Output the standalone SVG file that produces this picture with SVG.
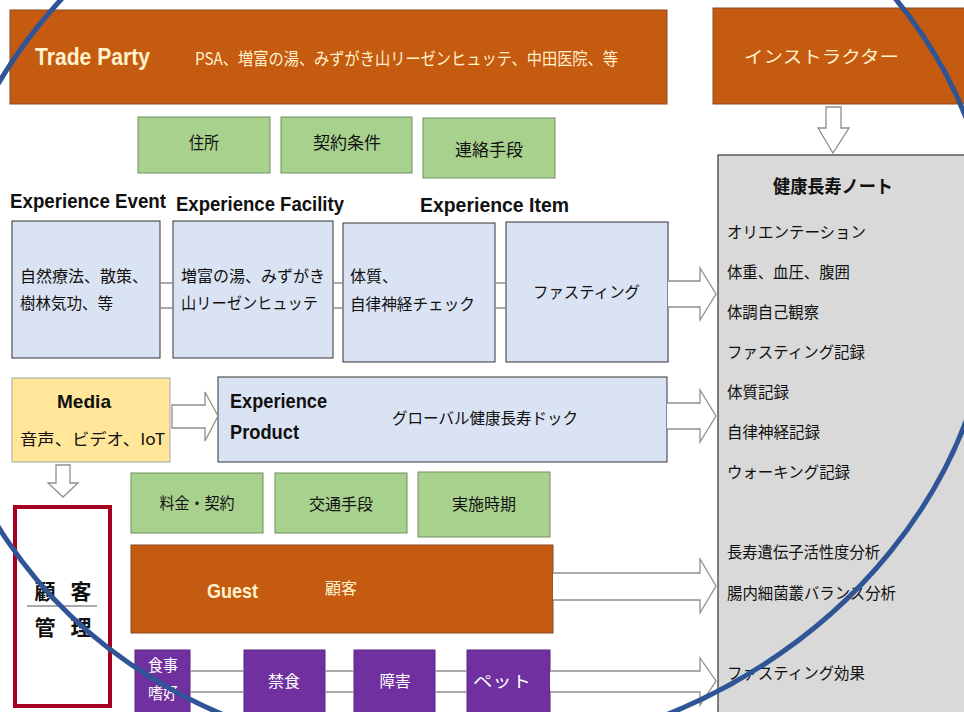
<svg xmlns="http://www.w3.org/2000/svg" width="964" height="712" viewBox="0 0 964 712">
<style>
text{font-family:"Noto Sans CJK JP","Liberation Sans",sans-serif;}
.lat{font-family:"Liberation Sans","Noto Sans CJK JP",sans-serif;font-weight:bold;}
.org{fill:#C55A11;stroke:#8a4a22;stroke-width:1}
.grn{fill:#A9D18E;stroke:#6f8f5e;stroke-width:1}
.blu{fill:#DAE3F3;stroke:#333;stroke-width:1}
.pur{fill:#7030A0;stroke:#5a2580;stroke-width:1}
.wt{fill:#FFF2CC}
.w{fill:#fff}
.k{fill:#111}
.arr{fill:#fff;stroke:#8f8f8f;stroke-width:1.3}
.dl{stroke:#8f8f8f;stroke-width:1.3;fill:none}
</style>
<rect width="964" height="712" fill="#fff"/>

<g id="trade-party">
<rect class="org" x="10" y="10" width="657" height="94"/>
<text class="lat wt" x="35" y="57" font-size="23" dominant-baseline="central" textLength="115" lengthAdjust="spacingAndGlyphs">Trade  Party</text>
<text class="wt" x="195" y="57" font-size="17" dominant-baseline="central" textLength="423" lengthAdjust="spacingAndGlyphs">PSA、増富の湯、みずがき山リーゼンヒュッテ、中田医院、等</text>
</g>

<g id="instructor">
<rect class="org" x="713" y="8" width="260" height="96"/>
<text class="wt" x="744" y="55" font-size="17" dominant-baseline="central" textLength="155" lengthAdjust="spacingAndGlyphs">インストラクター</text>
</g>

<g id="jusho"><rect class="grn" x="138" y="117" width="132" height="56"/><text class="k" x="204" y="141" font-size="17" text-anchor="middle" dominant-baseline="central" textLength="30" lengthAdjust="spacingAndGlyphs">住所</text></g>
<g id="keiyaku"><rect class="grn" x="281" y="117" width="131" height="56"/><text class="k" x="347" y="141" font-size="17" text-anchor="middle" dominant-baseline="central" textLength="68" lengthAdjust="spacingAndGlyphs">契約条件</text></g>
<g id="renraku"><rect class="grn" x="423" y="118" width="132" height="60"/><text class="k" x="489" y="148" font-size="17" text-anchor="middle" dominant-baseline="central" textLength="68" lengthAdjust="spacingAndGlyphs">連絡手段</text></g>

<g id="headers">
<text class="lat k" x="10" y="201" font-size="20" dominant-baseline="central" textLength="156" lengthAdjust="spacingAndGlyphs">Experience Event</text>
<text class="lat k" x="176" y="204" font-size="20" dominant-baseline="central" textLength="168" lengthAdjust="spacingAndGlyphs">Experience Facility</text>
<text class="lat k" x="420" y="205" font-size="20" dominant-baseline="central" textLength="149" lengthAdjust="spacingAndGlyphs">Experience Item</text>
</g>

<g id="event"><rect class="blu" x="12" y="221" width="148" height="137"/>
<text class="k" x="20" y="275" font-size="16" dominant-baseline="central" textLength="128" lengthAdjust="spacingAndGlyphs">自然療法、散策、</text>
<text class="k" x="20" y="302" font-size="16" dominant-baseline="central" textLength="93" lengthAdjust="spacingAndGlyphs">樹林気功、等</text></g>
<g id="facility"><rect class="blu" x="173" y="221" width="160" height="137"/>
<text class="k" x="181" y="275" font-size="16" dominant-baseline="central" textLength="144" lengthAdjust="spacingAndGlyphs">増富の湯、みずがき</text>
<text class="k" x="181" y="302" font-size="16" dominant-baseline="central" textLength="137" lengthAdjust="spacingAndGlyphs">山リーゼンヒュッテ</text></g>
<g id="item1"><rect class="blu" x="343" y="223" width="152" height="139"/>
<text class="k" x="350" y="275" font-size="16" dominant-baseline="central" textLength="48" lengthAdjust="spacingAndGlyphs">体質、</text>
<text class="k" x="350" y="303" font-size="16" dominant-baseline="central" textLength="125" lengthAdjust="spacingAndGlyphs">自律神経チェック</text></g>
<g id="item2"><rect class="blu" x="506" y="222" width="162" height="140"/>
<text class="k" x="533" y="291" font-size="16" dominant-baseline="central" textLength="107" lengthAdjust="spacingAndGlyphs">ファスティング</text></g>

<g id="media"><rect x="12" y="378" width="158" height="84" fill="#FFE699" stroke="#a8a8a8" stroke-width="1"/>
<text class="lat k" x="84" y="401" font-size="19" text-anchor="middle" dominant-baseline="central" textLength="54" lengthAdjust="spacingAndGlyphs">Media</text>
<text class="k" x="20" y="438" font-size="16" dominant-baseline="central" textLength="145" lengthAdjust="spacingAndGlyphs">音声、ビデオ、IoT</text></g>

<g id="product"><rect class="blu" x="218" y="377" width="449" height="85"/>
<text class="lat k" x="230" y="401" font-size="20" dominant-baseline="central" textLength="97" lengthAdjust="spacingAndGlyphs">Experience</text>
<text class="lat k" x="230" y="432" font-size="20" dominant-baseline="central" textLength="69" lengthAdjust="spacingAndGlyphs">Product</text>
<text class="k" x="392" y="417" font-size="16" dominant-baseline="central" textLength="186" lengthAdjust="spacingAndGlyphs">グローバル健康長寿ドック</text></g>

<g id="ryokin"><rect class="grn" x="131" y="473" width="132" height="60"/><text class="k" x="197" y="502" font-size="16" text-anchor="middle" dominant-baseline="central" textLength="75" lengthAdjust="spacingAndGlyphs">料金・契約</text></g>
<g id="kotsu"><rect class="grn" x="275" y="473" width="132" height="60"/><text class="k" x="341" y="503" font-size="16" text-anchor="middle" dominant-baseline="central" textLength="64" lengthAdjust="spacingAndGlyphs">交通手段</text></g>
<g id="jisshi"><rect class="grn" x="418" y="472" width="132" height="65"/><text class="k" x="484" y="503" font-size="16" text-anchor="middle" dominant-baseline="central" textLength="64" lengthAdjust="spacingAndGlyphs">実施時期</text></g>

<g id="kokyaku-kanri"><rect x="15" y="507" width="95" height="199" fill="#fff" stroke="#A50021" stroke-width="4"/>
<text class="k" x="45" y="590" font-size="21" font-weight="bold" text-anchor="middle" dominant-baseline="central">顧</text>
<text class="k" x="81" y="590" font-size="21" font-weight="bold" text-anchor="middle" dominant-baseline="central">客</text>
<line x1="27" y1="606" x2="97" y2="606" stroke="#555" stroke-width="1"/>
<text class="k" x="45" y="626" font-size="21" font-weight="bold" text-anchor="middle" dominant-baseline="central">管</text>
<text class="k" x="81" y="626" font-size="21" font-weight="bold" text-anchor="middle" dominant-baseline="central">理</text></g>

<g id="guest"><rect class="org" x="131" y="545" width="422" height="88"/>
<text class="lat wt" x="207" y="590" font-size="21" dominant-baseline="central" textLength="51" lengthAdjust="spacingAndGlyphs">Guest</text>
<text class="wt" x="325" y="587" font-size="16" dominant-baseline="central" textLength="32" lengthAdjust="spacingAndGlyphs">顧客</text></g>

<g id="shokuji"><rect class="pur" x="135" y="650" width="55" height="70"/>
<text class="w" x="163" y="664" font-size="16" text-anchor="middle" dominant-baseline="central" textLength="30" lengthAdjust="spacingAndGlyphs">食事</text>
<text class="w" x="163" y="692" font-size="16" text-anchor="middle" dominant-baseline="central" textLength="30" lengthAdjust="spacingAndGlyphs">嗜好</text></g>
<g id="kinshoku"><rect class="pur" x="244" y="650" width="81" height="70"/><text class="w" x="284" y="680" font-size="16" text-anchor="middle" dominant-baseline="central" textLength="32" lengthAdjust="spacingAndGlyphs">禁食</text></g>
<g id="shogai"><rect class="pur" x="354" y="650" width="81" height="70"/><text class="w" x="395" y="680" font-size="16" text-anchor="middle" dominant-baseline="central" textLength="31" lengthAdjust="spacingAndGlyphs">障害</text></g>
<g id="pet"><rect class="pur" x="467" y="650" width="83" height="70"/><text class="w" x="502" y="680" font-size="16" text-anchor="middle" dominant-baseline="central" textLength="58" lengthAdjust="spacingAndGlyphs">ペット</text></g>

<g id="note"><rect x="718" y="155" width="260" height="570" fill="#D9D9D9" stroke="#444" stroke-width="1.3"/>
<text class="k" x="833" y="185" font-size="18" font-weight="bold" text-anchor="middle" dominant-baseline="central" textLength="120" lengthAdjust="spacingAndGlyphs">健康長寿ノート</text>
<text class="k" x="727" y="231" font-size="16" dominant-baseline="central" textLength="139" lengthAdjust="spacingAndGlyphs">オリエンテーション</text>
<text class="k" x="727" y="271" font-size="16" dominant-baseline="central" textLength="123" lengthAdjust="spacingAndGlyphs">体重、血圧、腹囲</text>
<text class="k" x="727" y="311" font-size="16" dominant-baseline="central" textLength="92" lengthAdjust="spacingAndGlyphs">体調自己観察</text>
<text class="k" x="727" y="351" font-size="16" dominant-baseline="central" textLength="138" lengthAdjust="spacingAndGlyphs">ファスティング記録</text>
<text class="k" x="727" y="391" font-size="16" dominant-baseline="central" textLength="62" lengthAdjust="spacingAndGlyphs">体質記録</text>
<text class="k" x="727" y="431" font-size="16" dominant-baseline="central" textLength="93" lengthAdjust="spacingAndGlyphs">自律神経記録</text>
<text class="k" x="727" y="471" font-size="16" dominant-baseline="central" textLength="123" lengthAdjust="spacingAndGlyphs">ウォーキング記録</text>
<text class="k" x="727" y="551" font-size="16" dominant-baseline="central" textLength="153" lengthAdjust="spacingAndGlyphs">長寿遺伝子活性度分析</text>
<text class="k" x="727" y="592" font-size="16" dominant-baseline="central" textLength="169" lengthAdjust="spacingAndGlyphs">腸内細菌叢バランス分析</text>
<text class="k" x="727" y="672" font-size="16" dominant-baseline="central" textLength="138" lengthAdjust="spacingAndGlyphs">ファスティング効果</text></g>

<g id="connectors">
<path class="dl" d="M160,283 H173 M160,308 H173 M333,283 H343 M333,308 H343 M495,283 H506 M495,308 H506"/>
<path class="dl" d="M190,671 H244 M190,692 H244 M325,671 H354 M325,692 H354 M435,671 H467 M435,692 H467"/>
<path class="arr" d="M668,281 H700 V268 L716,294 L700,320 V307 H668"/>
<path class="arr" d="M667,403 H700 V390 L716,416 L700,442 V429 H667"/>
<path class="arr" d="M553,573 H700 V559 L716,586 L700,613 V600 H553"/>
<path class="arr" d="M550,671 H700 V658 L716,681 L700,705 V692 H550"/>
<path class="arr" d="M172,405 H205 V392 L218,416 L205,441 V428 H172 Z"/>
<path class="arr" d="M826,107 V128 H818 L833,153 L849,128 H841 V107 Z"/>
<path class="arr" d="M56,465 V483 H48 L63,497 L78,483 H70 V465 Z"/>
</g>

<ellipse cx="465" cy="288" rx="531" ry="468" transform="rotate(-9.6 465 288)" fill="none" stroke="#2F5597" stroke-width="5"/>
</svg>
